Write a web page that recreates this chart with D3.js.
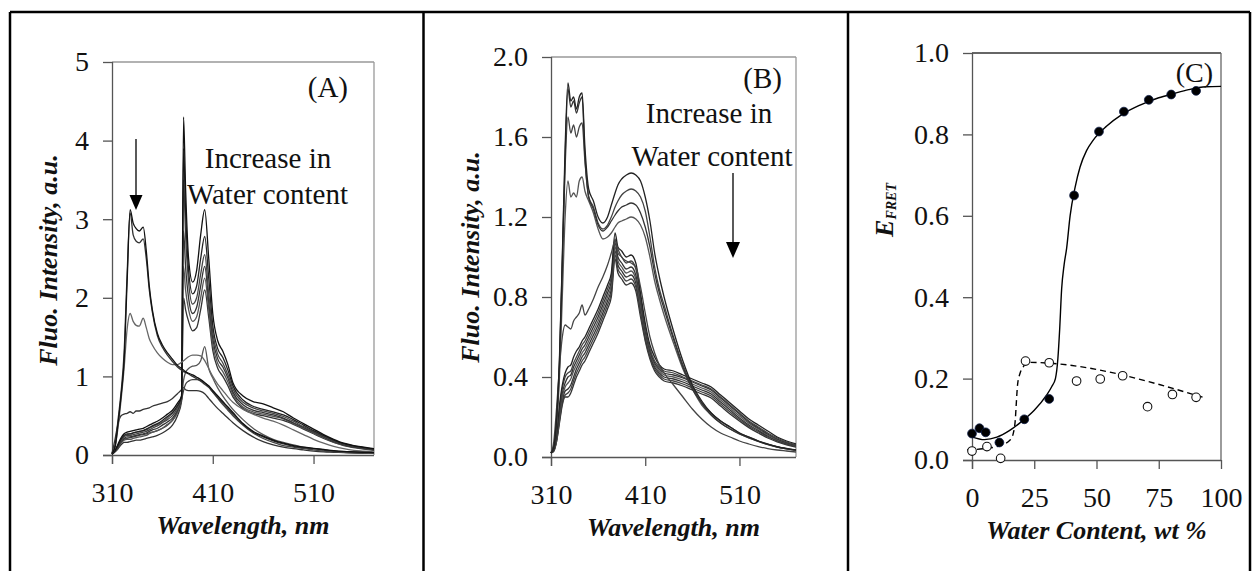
<!DOCTYPE html>
<html><head><meta charset="utf-8">
<script src="https://cdn.jsdelivr.net/npm/d3@7"></script>
<style>
body{margin:0;background:#fff}
svg{display:block}
</style></head>
<body><svg id="c" width="1260" height="571"></svg>
<script>
// ---------- Panel A data (wavelength grid and spectra) ----------
const wlA = [310,313,316,319,322,325,328,331,334,337,341,344,347,350,355,360,365,370,375,379,381,383,386,390,394,398,402,406,410,415,420,425,430,440,450,460,470,480,490,500,510,520,530,540,550,560,570];
const aDonor1 = [0.02,0.1,0.4,0.75,1.2,2.2,3.12,2.95,2.88,2.85, 2.9,2.6,2.15,1.85,1.55,1.4,1.3,1.22,1.14,1.1, 1.08,1.06,1.04,1.02,0.99,0.96,0.92,0.88,0.82,0.75, 0.68,0.61,0.54,0.4,0.3,0.24,0.19,0.15,0.12,0.1, 0.085,0.07,0.055,0.045,0.04,0.035,0.03];
const aDonor2 = [0.02,0.12,0.45,0.8,1.3,2.3,3.08,2.8,2.72,2.7, 2.75,2.5,2.1,1.82,1.52,1.37,1.27,1.19,1.12,1.08, 1.06,1.05,1.03,1.0,0.97,0.94,0.9,0.86,0.8,0.73, 0.66,0.59,0.52,0.39,0.29,0.23,0.18,0.14,0.11,0.09, 0.08,0.065,0.05,0.042,0.038,0.033,0.03];
const aDonor3 = [0.02,0.1,0.35,0.7,1.1,1.6,1.8,1.7,1.65,1.64, 1.74,1.62,1.48,1.4,1.3,1.23,1.18,1.15,1.15,1.18, 1.2,1.22,1.25,1.27,1.27,1.26,1.2,1.1,1.0,0.9, 0.82,0.74,0.67,0.58,0.52,0.47,0.43,0.38,0.32,0.26, 0.2,0.15,0.11,0.08,0.06,0.05,0.04];
const aMid1 = [0.02,0.2,0.4,0.5,0.52,0.53,0.55,0.53,0.56,0.56, 0.58,0.59,0.6,0.62,0.64,0.66,0.68,0.72,0.78,0.83, 0.86,0.83,0.82,0.82,0.82,0.81,0.78,0.72,0.66,0.59, 0.53,0.47,0.41,0.31,0.23,0.17,0.13,0.1,0.08,0.065, 0.05,0.04,0.035,0.03,0.025,0.022,0.02];
const aMid2 = [0.01,0.05,0.1,0.16,0.2,0.21,0.22,0.23,0.24,0.25, 0.26,0.27,0.28,0.29,0.31,0.34,0.38,0.44,0.55,0.7, 0.82,0.9,0.94,0.96,0.96,0.95,0.92,0.87,0.8,0.72, 0.64,0.57,0.5,0.38,0.28,0.21,0.16,0.12,0.1,0.08, 0.065,0.05,0.04,0.035,0.03,0.025,0.02];
const aMid3 = [0.01,0.06,0.12,0.19,0.24,0.26,0.27,0.28,0.29,0.3, 0.31,0.32,0.34,0.36,0.39,0.42,0.47,0.53,0.62,0.73, 0.95,1.05,1.1,1.13,1.14,1.2,1.38,1.1,0.98,0.85, 0.75,0.66,0.58,0.45,0.34,0.26,0.2,0.16,0.13,0.1, 0.08,0.065,0.05,0.04,0.035,0.03,0.025];
const aAcc1 = [0.01,0.06,0.14,0.22,0.27,0.29,0.3,0.31,0.32,0.33, 0.34,0.36,0.38,0.4,0.43,0.47,0.52,0.57,0.66,0.75, 4.3,3.4,2.5,2.2,2.35,2.8,3.12,2.5,1.8,1.45, 1.32,1.15,0.92,0.75,0.68,0.65,0.6,0.55,0.47,0.4, 0.33,0.26,0.2,0.15,0.12,0.1,0.08];
const aAcc2 = [0.01,0.05,0.12,0.2,0.25,0.27,0.27,0.28,0.29,0.3, 0.31,0.33,0.35,0.37,0.4,0.44,0.49,0.54,0.63,0.74, 3.9,3.1,2.35,2.05,2.15,2.5,2.78,2.25,1.65,1.35, 1.24,1.08,0.88,0.7,0.62,0.58,0.55,0.51,0.45,0.38, 0.31,0.25,0.19,0.145,0.115,0.095,0.075];
const aAcc3 = [0.01,0.05,0.11,0.18,0.23,0.25,0.25,0.26,0.27,0.28, 0.29,0.3,0.32,0.34,0.37,0.41,0.45,0.5,0.6,0.72, 3.5,2.8,2.2,1.92,2.0,2.3,2.55,2.05,1.55,1.28, 1.17,1.02,0.84,0.67,0.6,0.56,0.53,0.49,0.43,0.36, 0.3,0.24,0.18,0.14,0.11,0.09,0.07];
const aAcc4 = [0.01,0.05,0.1,0.17,0.21,0.23,0.23,0.24,0.25,0.26, 0.27,0.28,0.3,0.32,0.34,0.38,0.42,0.47,0.57,0.71, 2.85,2.4,2.0,1.8,1.88,2.15,2.4,1.95,1.48,1.22, 1.12,0.98,0.8,0.64,0.57,0.54,0.51,0.47,0.41,0.35, 0.29,0.23,0.17,0.13,0.1,0.085,0.065];
const aAcc5 = [0.01,0.04,0.09,0.15,0.19,0.2,0.2,0.21,0.22,0.23, 0.24,0.25,0.27,0.29,0.31,0.34,0.39,0.44,0.54,0.7, 2.4,2.1,1.85,1.7,1.76,2.0,2.25,1.85,1.4,1.16, 1.06,0.93,0.77,0.61,0.55,0.52,0.49,0.46,0.4,0.34, 0.28,0.22,0.165,0.125,0.1,0.08,0.065];
const aAcc6 = [0.01,0.04,0.08,0.13,0.16,0.16,0.17,0.18,0.19,0.19, 0.2,0.21,0.22,0.23,0.25,0.28,0.32,0.38,0.5,0.68, 2.0,1.85,1.7,1.58,1.62,1.85,2.1,1.75,1.33,1.1, 1.0,0.88,0.74,0.59,0.53,0.5,0.47,0.44,0.39,0.33, 0.27,0.21,0.16,0.12,0.095,0.075,0.06];
const yTicksA = [0,1,2,3,4,5];
const xTicksA = [310,410,510];

// ---------- Panel B data ----------
const wlB = [310,313,316,319,322,325,328,331,334,337,340,343,346,350,355,360,365,370,374,378,381,385,390,395,400,405,410,415,420,425,430,440,450,460,470,480,490,500,510,520,530,540,550,560,570];
const bDonor1 = [0.02,0.05,0.2,0.5,1.0,1.55,1.87,1.78,1.8,1.74, 1.8,1.82,1.55,1.34,1.28,1.2,1.17,1.2,1.26,1.32, 1.36,1.39,1.41,1.42,1.41,1.38,1.3,1.18,1.02,0.9, 0.8,0.63,0.48,0.36,0.28,0.22,0.18,0.15,0.12,0.1, 0.08,0.065,0.052,0.043,0.035];
const bDonor2 = [0.02,0.05,0.19,0.48,0.98,1.5,1.84,1.75,1.78,1.72, 1.77,1.8,1.5,1.3,1.24,1.16,1.13,1.15,1.18,1.21, 1.23,1.25,1.26,1.27,1.26,1.22,1.15,1.05,0.92,0.82, 0.74,0.59,0.45,0.34,0.27,0.21,0.17,0.14,0.115,0.095, 0.078,0.063,0.05,0.041,0.034];
const bDonor3 = [0.02,0.05,0.18,0.45,0.95,1.45,1.7,1.62,1.66,1.6, 1.65,1.67,1.48,1.3,1.25,1.17,1.14,1.16,1.2,1.25, 1.28,1.31,1.33,1.34,1.33,1.3,1.23,1.1,0.95,0.84, 0.76,0.6,0.46,0.35,0.27,0.22,0.18,0.15,0.12,0.1, 0.08,0.064,0.051,0.042,0.034];
const bDonor4 = [0.02,0.05,0.16,0.4,0.8,1.2,1.38,1.3,1.32,1.3, 1.38,1.4,1.33,1.28,1.22,1.14,1.09,1.1,1.12,1.15, 1.17,1.18,1.19,1.2,1.19,1.16,1.1,1.0,0.88,0.79, 0.71,0.57,0.44,0.34,0.26,0.21,0.17,0.14,0.115,0.095, 0.078,0.062,0.05,0.041,0.033];
const bMid1 = [0.02,0.08,0.25,0.45,0.6,0.66,0.65,0.64,0.68,0.7, 0.72,0.76,0.71,0.74,0.79,0.85,0.9,0.96,1.02,1.08, 1.04,1.0,0.98,0.97,0.95,0.85,0.72,0.6,0.52,0.46, 0.42,0.36,0.3,0.24,0.19,0.15,0.12,0.1,0.08,0.065, 0.052,0.042,0.035,0.03,0.025];
const bAcc1 = [0.02,0.04,0.12,0.26,0.36,0.42,0.45,0.46,0.5,0.53, 0.55,0.58,0.6,0.64,0.69,0.74,0.8,0.86,0.92,1.12, 1.05,1.03,1.0,1.01,0.97,0.82,0.67,0.56,0.5,0.46, 0.44,0.43,0.41,0.39,0.37,0.35,0.31,0.27,0.23,0.19, 0.16,0.13,0.1,0.08,0.065];
const bAcc2 = [0.02,0.04,0.11,0.24,0.34,0.4,0.42,0.43,0.47,0.5, 0.53,0.56,0.58,0.62,0.67,0.72,0.78,0.84,0.9,1.09, 1.02,1.0,0.97,0.98,0.94,0.8,0.65,0.54,0.48,0.45, 0.43,0.42,0.4,0.38,0.36,0.34,0.3,0.26,0.22,0.18, 0.15,0.12,0.095,0.075,0.06];
const bAcc3 = [0.02,0.04,0.1,0.22,0.32,0.37,0.4,0.41,0.45,0.48, 0.51,0.54,0.56,0.6,0.65,0.7,0.76,0.82,0.88,1.07, 1.0,0.97,0.94,0.95,0.91,0.78,0.63,0.53,0.47,0.44, 0.42,0.41,0.395,0.375,0.355,0.335,0.295,0.255,0.215,0.175, 0.145,0.115,0.09,0.072,0.058];
const bAcc4 = [0.02,0.035,0.09,0.2,0.3,0.35,0.37,0.39,0.43,0.46, 0.49,0.52,0.54,0.58,0.63,0.68,0.74,0.8,0.86,1.05, 0.98,0.95,0.92,0.93,0.89,0.76,0.62,0.52,0.46,0.43, 0.41,0.4,0.385,0.365,0.345,0.325,0.285,0.245,0.205,0.168, 0.14,0.11,0.087,0.07,0.056];
const bAcc5 = [0.02,0.035,0.09,0.19,0.28,0.33,0.34,0.36,0.4,0.44, 0.47,0.5,0.52,0.56,0.61,0.66,0.72,0.78,0.84,1.03, 0.96,0.93,0.9,0.91,0.87,0.74,0.6,0.51,0.45,0.42, 0.4,0.39,0.375,0.355,0.335,0.315,0.275,0.235,0.195,0.16, 0.133,0.105,0.083,0.067,0.054];
const bAcc6 = [0.02,0.03,0.08,0.18,0.27,0.31,0.32,0.34,0.38,0.42, 0.45,0.48,0.5,0.54,0.59,0.64,0.7,0.76,0.82,1.01, 0.94,0.91,0.88,0.89,0.85,0.72,0.59,0.5,0.44,0.41, 0.39,0.38,0.365,0.345,0.325,0.305,0.265,0.225,0.187,0.153, 0.127,0.1,0.08,0.064,0.052];
const bAcc7 = [0.02,0.03,0.08,0.17,0.26,0.3,0.3,0.32,0.36,0.4, 0.43,0.46,0.48,0.52,0.57,0.62,0.68,0.74,0.8,0.99, 0.92,0.89,0.86,0.87,0.83,0.7,0.58,0.49,0.43,0.4, 0.38,0.37,0.355,0.335,0.315,0.295,0.255,0.215,0.18,0.147, 0.12,0.095,0.076,0.061,0.05];
const yTicksB = [0,0.4,0.8,1.2,1.6,2.0];
const xTicksB = [310,410,510];

// ---------- Panel C data ----------
const waterFilled = [0,3,5.5,11,21,31,41,51,61,71,80,90];
const efretFilled = [0.065,0.078,0.068,0.043,0.10,0.15,0.65,0.807,0.856,0.885,0.898,0.907];
const waterOpen = [0,6,11.5,21.5,31,42,51.5,60.5,70.5,80.5,90];
const efretOpen = [0.022,0.033,0.004,0.243,0.239,0.194,0.199,0.207,0.131,0.161,0.154];
const fitSolidX = [0,5,10,15,20,25,30,32,33.5,34.5,35.2,36,37,38,39.4,41.4,43.4,46,48.7,54,60,67.5,75,80.8,87,94,100];
const fitSolidY = [0.057,0.05,0.056,0.072,0.095,0.122,0.16,0.18,0.2,0.25,0.32,0.42,0.48,0.52,0.6,0.67,0.72,0.76,0.786,0.82,0.848,0.872,0.89,0.9,0.91,0.917,0.918];
const fitDashX = [-2,5,11,15.3,16.6,17.4,17.8,18.3,19.3,20.6,22,92.8];
const fitDashY = [0.025,0.028,0.035,0.049,0.066,0.1,0.14,0.185,0.213,0.229,0.24,0.154];
const yTicksC = [0,0.2,0.4,0.6,0.8,1.0];
const xTicksC = [0,25,50,75,100];

// ---------- drawing ----------
const svg = d3.select("#c");
const FONT = "'Liberation Serif', 'Times New Roman', Times, 'Nimbus Roman', 'DejaVu Serif', serif";

// outer frame
const frame = svg.append("g").attr("stroke","#000").attr("stroke-width",2.5);
frame.append("line").attr("x1",10).attr("x2",1250).attr("y1",12).attr("y2",12);
[10,423.5,848,1250].forEach(x=>frame.append("line").attr("x1",x).attr("x2",x).attr("y1",12).attr("y2",571));

function makePanel(o){
  const g = svg.append("g");
  const x = d3.scaleLinear().domain(o.xDomain).range([o.left,o.right]);
  const y = d3.scaleLinear().domain(o.yDomain).range([o.bottom,o.top]);
  const id = "clip"+o.name;
  svg.append("clipPath").attr("id",id).append("rect")
    .attr("x",o.left-6).attr("y",o.top).attr("width",o.right-o.left+6).attr("height",o.bottom-o.top);
  g.append("line").attr("x1",o.left).attr("x2",o.right).attr("y1",o.top).attr("y2",o.top).attr("stroke",o.topColor).attr("stroke-width",1.3);
  g.append("line").attr("x1",o.right).attr("x2",o.right).attr("y1",o.top).attr("y2",o.bottom).attr("stroke",o.rightColor).attr("stroke-width",1.3);
  const ya = g.append("g").attr("transform",`translate(${o.left},0)`)
    .call(d3.axisLeft(y).tickValues(o.yTicks).tickFormat(o.yFmt).tickSize(9).tickSizeOuter(0).tickPadding(14));
  const xa = g.append("g").attr("transform",`translate(0,${o.bottom})`)
    .call(d3.axisBottom(x).tickValues(o.xTicks).tickFormat(d3.format("d")).tickSize(9).tickSizeOuter(0).tickPadding(18));
  [ya,xa].forEach(a=>{
    a.attr("font-family",FONT).attr("font-size",28);
    a.selectAll("path,line").attr("stroke","#555").attr("stroke-width",1.3);
    a.selectAll("text").attr("fill","#111");
  });
  xa.select(".domain").attr("d",`M${o.left-9},0.5H${o.right}`);
  ya.select(".domain").attr("d",`M0.5,${o.top}V${o.bottom+9}`);
  return {g,x,y,clip:`url(#${id})`};
}

function drawSpectra(P, wl, list){
  const line = d3.line().x((d,i)=>P.x(wl[i])).y(d=>P.y(d)).curve(d3.curveMonotoneX);
  const gg = P.g.append("g").attr("clip-path",P.clip).attr("fill","none").attr("stroke-linejoin","round");
  list.forEach(s=>{
    gg.append("path").attr("d",line(s.v)).attr("stroke",s.c).attr("stroke-width",1.3);
  });
}

// Panel A
const PA = makePanel({name:"A",left:112,right:374,top:62,bottom:455,xDomain:[310,570],yDomain:[0,5],
  yTicks:yTicksA,xTicks:xTicksA,yFmt:d3.format("d"),topColor:"#999",rightColor:"#999"});
drawSpectra(PA, wlA, [
  {v:aMid1,c:"#333"},{v:aMid2,c:"#444"},{v:aMid3,c:"#555"},
  {v:aAcc6,c:"#333"},{v:aAcc5,c:"#555"},{v:aAcc4,c:"#333"},{v:aAcc3,c:"#444"},{v:aAcc2,c:"#222"},{v:aAcc1,c:"#111"},
  {v:aDonor3,c:"#666"},{v:aDonor2,c:"#333"},{v:aDonor1,c:"#111"}
]);
// Panel B
const PB = makePanel({name:"B",left:551,right:796,top:57,bottom:457,xDomain:[310,570],yDomain:[0,2],
  yTicks:yTicksB,xTicks:xTicksB,yFmt:d3.format(".1f"),topColor:"#999",rightColor:"#999"});
drawSpectra(PB, wlB, [
  {v:bAcc7,c:"#333"},{v:bAcc6,c:"#444"},{v:bAcc5,c:"#333"},{v:bAcc4,c:"#555"},{v:bAcc3,c:"#333"},{v:bAcc2,c:"#444"},{v:bAcc1,c:"#222"},
  {v:bMid1,c:"#444"},
  {v:bDonor4,c:"#555"},{v:bDonor3,c:"#444"},{v:bDonor2,c:"#333"},{v:bDonor1,c:"#222"}
]);
// Panel C
const PC = makePanel({name:"C",left:972,right:1221,top:53,bottom:460,xDomain:[0,100],yDomain:[0,1],
  yTicks:yTicksC,xTicks:xTicksC,yFmt:d3.format(".1f"),topColor:"#333",rightColor:"#666"});
const solid = d3.line().x((d,i)=>PC.x(fitSolidX[i])).y(d=>PC.y(d)).curve(d3.curveMonotoneX);
PC.g.append("path").attr("d",solid(fitSolidY)).attr("fill","none").attr("stroke","#000").attr("stroke-width",1.4);
const dash = d3.line().x((d,i)=>PC.x(fitDashX[i])).y(d=>PC.y(d)).curve(d3.curveMonotoneX);
PC.g.append("path").attr("d",dash(fitDashY)).attr("fill","none").attr("stroke","#000").attr("stroke-width",1.4).attr("stroke-dasharray","6,4");
PC.g.selectAll("circle.o").data(waterOpen).join("circle").attr("class","o")
  .attr("cx",d=>PC.x(d)).attr("cy",(d,i)=>PC.y(efretOpen[i])).attr("r",4.3)
  .attr("fill","#fff").attr("stroke","#111").attr("stroke-width",1.1);
PC.g.selectAll("circle.f").data(waterFilled).join("circle").attr("class","f")
  .attr("cx",d=>PC.x(d)).attr("cy",(d,i)=>PC.y(efretFilled[i])).attr("r",4.4)
  .attr("fill","#000").attr("stroke","#0b1a44").attr("stroke-width",0.8);

// ---------- Texts ----------
const T = svg.append("g").attr("font-family",FONT).attr("fill","#111");
function txt(x,y,s,opt={}){
  return T.append("text").attr("x",x).attr("y",y).text(s)
    .attr("font-size",opt.size||29).attr("text-anchor",opt.anchor||"middle")
    .attr("font-weight",opt.bold?"bold":"normal").attr("font-style",opt.italic?"italic":"normal");
}
txt(243,534,"Wavelength, nm",{size:26,bold:true,italic:true});
txt(673.5,536,"Wavelength, nm",{size:26,bold:true,italic:true});
txt(1096.5,539,"Water Content, wt %",{size:26,bold:true,italic:true});
T.append("text").attr("transform","translate(57,260) rotate(-90)").attr("text-anchor","middle")
  .attr("font-size",26).attr("font-weight","bold").attr("font-style","italic").text("Fluo. Intensity, a.u.");
T.append("text").attr("transform","translate(479,257) rotate(-90)").attr("text-anchor","middle")
  .attr("font-size",26).attr("font-weight","bold").attr("font-style","italic").text("Fluo. Intensity, a.u.");
const ef = T.append("text").attr("transform","translate(893,210) rotate(-90)").attr("text-anchor","middle")
  .attr("font-weight","bold").attr("font-style","italic");
ef.append("tspan").attr("font-size",26).text("E");
ef.append("tspan").attr("font-size",14).attr("dy",3).text("FRET");

txt(348,97,"(A)",{anchor:"end"});
txt(782,88,"(B)",{anchor:"end"});
txt(1213,82,"(C)",{anchor:"end",size:28});
txt(268,168,"Increase in");
txt(267.5,204,"Water content");
txt(709,123,"Increase in");
txt(712,166,"Water content");

const ar = svg.append("g");
ar.append("line").attr("x1",136).attr("x2",136).attr("y1",139).attr("y2",197).attr("stroke","#000").attr("stroke-width",1.3);
ar.append("path").attr("d","M129.5,195L142.5,195L136,210Z").attr("fill","#000");
ar.append("line").attr("x1",733).attr("x2",733).attr("y1",173).attr("y2",244).attr("stroke","#000").attr("stroke-width",1.3);
ar.append("path").attr("d","M726,242L740,242L733,258Z").attr("fill","#000");
</script></body></html>
